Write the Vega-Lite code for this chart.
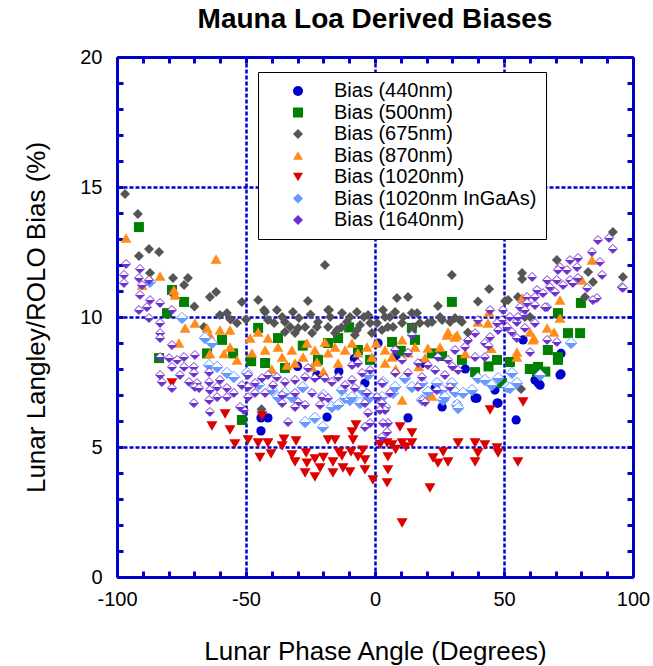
{
"$schema":"https://vega.github.io/schema/vega-lite/v6.json",
"width":516,"height":520,
"autosize":{"type":"none"},
"padding":{"left":117,"top":57,"right":20,"bottom":89},
"config":{"font":"Liberation Sans","view":{"stroke":null}},
"title":{"text":"Mauna Loa Derived Biases","fontSize":28,"fontWeight":"bold","font":"Liberation Sans","color":"black","anchor":"middle","offset":13},
"datasets":{
"d440":[{"x":-44.2,"y":6.12},{"x":-41.5,"y":6.12},{"x":-44.2,"y":5.62},{"x":-18.6,"y":6.15},{"x":-22.5,"y":7.77},{"x":-3.9,"y":7.46},{"x":-14,"y":7.9},{"x":-30,"y":8.1},{"x":1.2,"y":9.0},{"x":12.8,"y":6.12},{"x":23.3,"y":7.27},{"x":26,"y":6.54},{"x":31.8,"y":6.62},{"x":38.8,"y":6.88},{"x":39.5,"y":6.88},{"x":46.5,"y":7.19},{"x":47.7,"y":6.69},{"x":47.3,"y":6.69},{"x":54.7,"y":6.04},{"x":57.4,"y":9.12},{"x":62,"y":7.58},{"x":63.2,"y":7.46},{"x":64,"y":7.38},{"x":71.7,"y":7.77},{"x":72.1,"y":7.81},{"x":72.1,"y":8.6},{"x":8,"y":8.5},{"x":18,"y":8.2},{"x":-8,"y":8.4},{"x":35,"y":8.0}],
"d500":[{"x":-91.5,"y":13.46},{"x":-78.7,"y":11.04},{"x":-74,"y":10.58},{"x":-80.6,"y":10.15},{"x":-83.7,"y":8.42},{"x":-59.3,"y":9.12},{"x":-65.1,"y":8.6},{"x":-51.6,"y":6.04},{"x":-45.3,"y":9.58},{"x":-37.6,"y":9.19},{"x":-42.6,"y":8.23},{"x":-34.9,"y":8.04},{"x":-18.2,"y":9.0},{"x":-14.3,"y":9.19},{"x":-6.6,"y":8.73},{"x":-1.9,"y":8.35},{"x":-22.1,"y":8.35},{"x":-28,"y":8.9},{"x":-10,"y":9.6},{"x":6.6,"y":9.04},{"x":14.3,"y":9.58},{"x":15.5,"y":9.12},{"x":22,"y":8.6},{"x":29.8,"y":10.58},{"x":33.7,"y":8.35},{"x":38.8,"y":7.88},{"x":47.3,"y":8.35},{"x":49.2,"y":7.46},{"x":52.3,"y":8.27},{"x":62.8,"y":7.88},{"x":63.2,"y":8.08},{"x":67,"y":8.73},{"x":70.9,"y":8.35},{"x":70.9,"y":8.46},{"x":70.9,"y":10.15},{"x":74.8,"y":9.38},{"x":79.5,"y":9.38},{"x":79.8,"y":10.54},{"x":60,"y":8.0},{"x":66,"y":7.9},{"x":10,"y":8.7},{"x":26,"y":8.5},{"x":44,"y":8.1},{"x":-55,"y":8.6},{"x":-48,"y":8.3}],
"d675":[{"x":-96.9,"y":14.73},{"x":-91.9,"y":13.96},{"x":-91.5,"y":12.35},{"x":-87.6,"y":12.62},{"x":-83.7,"y":12.5},{"x":-87.2,"y":11.69},{"x":-78.3,"y":11.5},{"x":-72.5,"y":11.5},{"x":-74,"y":11.23},{"x":-78.7,"y":10.92},{"x":-64,"y":10.77},{"x":-61.6,"y":10.96},{"x":-60.1,"y":10.08},{"x":-57.4,"y":10.15},{"x":-53.5,"y":9.77},{"x":-66.3,"y":9.62},{"x":-51.6,"y":10.58},{"x":-45.3,"y":10.65},{"x":-43,"y":10.27},{"x":-42.6,"y":10.19},{"x":-41.5,"y":9.88},{"x":-38,"y":10.27},{"x":-39.1,"y":9.77},{"x":-34.9,"y":9.81},{"x":-34.9,"y":9.42},{"x":-32.9,"y":9.62},{"x":-31.8,"y":10.19},{"x":-31,"y":9.38},{"x":-29.5,"y":9.96},{"x":-29.8,"y":9.58},{"x":-27.1,"y":9.62},{"x":-26,"y":10.62},{"x":-24.4,"y":9.38},{"x":-22.5,"y":9.62},{"x":-22.1,"y":9.81},{"x":-19.4,"y":12.0},{"x":-18.2,"y":10.27},{"x":-18.2,"y":9.62},{"x":-17.8,"y":10.27},{"x":-17.4,"y":10.0},{"x":-15.5,"y":9.38},{"x":-14.7,"y":9.5},{"x":-12.8,"y":10.15},{"x":-10.9,"y":9.81},{"x":-9.7,"y":10.0},{"x":-7.8,"y":9.31},{"x":-7,"y":10.19},{"x":-7,"y":9.5},{"x":-5.8,"y":9.69},{"x":-4.3,"y":10.0},{"x":-2.7,"y":10.08},{"x":-1.9,"y":9.77},{"x":-1.2,"y":9.38},{"x":0.8,"y":9.77},{"x":2.7,"y":9.5},{"x":3.1,"y":10.27},{"x":3.9,"y":10.0},{"x":5,"y":9.62},{"x":5.8,"y":10.0},{"x":7,"y":9.62},{"x":7.8,"y":10.19},{"x":8.5,"y":10.73},{"x":10.5,"y":9.77},{"x":10.9,"y":10.0},{"x":12.8,"y":10.77},{"x":14.3,"y":10.15},{"x":14.7,"y":9.62},{"x":16.3,"y":10.15},{"x":17.4,"y":9.77},{"x":20.5,"y":9.77},{"x":22.1,"y":9.81},{"x":24.4,"y":10.42},{"x":25.2,"y":10.0},{"x":26,"y":9.88},{"x":29.1,"y":9.81},{"x":29.8,"y":11.62},{"x":31,"y":9.96},{"x":32.9,"y":9.88},{"x":33.7,"y":9.81},{"x":39.9,"y":10.6},{"x":44.2,"y":11.08},{"x":50.4,"y":10.62},{"x":51.6,"y":10.65},{"x":55.4,"y":10.77},{"x":57,"y":11.69},{"x":57,"y":11.46},{"x":58.1,"y":10.0},{"x":60.1,"y":10.0},{"x":70.5,"y":12.19},{"x":81.4,"y":10.77},{"x":82.6,"y":11.73},{"x":84.5,"y":11.35},{"x":92.2,"y":13.27},{"x":96.1,"y":11.54},{"x":-44,"y":6.45},{"x":56.6,"y":7.23},{"x":-70,"y":10.4},{"x":-50,"y":9.9},{"x":-36,"y":10.0},{"x":-25,"y":10.1},{"x":-13,"y":9.6},{"x":36,"y":9.4},{"x":-56,"y":9.9}],
"d870":[{"x":-96.5,"y":13.04},{"x":-61.6,"y":12.23},{"x":-83.3,"y":11.58},{"x":-90.3,"y":11.23},{"x":-77.9,"y":11.04},{"x":-77.5,"y":10.85},{"x":-73.6,"y":9.58},{"x":-69.8,"y":9.77},{"x":-76,"y":9.0},{"x":-65.1,"y":9.58},{"x":-60.1,"y":9.5},{"x":-56.2,"y":9.5},{"x":-64,"y":9.31},{"x":-64,"y":8.6},{"x":-58.5,"y":8.6},{"x":-56.2,"y":8.85},{"x":-53.5,"y":8.35},{"x":-48.4,"y":9.19},{"x":-45.3,"y":9.42},{"x":-41.5,"y":9.19},{"x":-47.7,"y":8.62},{"x":-42.6,"y":8.73},{"x":-37.6,"y":8.85},{"x":-36,"y":8.46},{"x":-34.1,"y":8.15},{"x":-32.2,"y":8.73},{"x":-31,"y":8.23},{"x":-26.4,"y":9.0},{"x":-27.9,"y":8.46},{"x":-24.4,"y":8.08},{"x":-23.3,"y":8.73},{"x":-22.5,"y":8.27},{"x":-19.4,"y":9.04},{"x":-18.2,"y":8.62},{"x":-15.5,"y":8.85},{"x":-14.3,"y":8.23},{"x":-11.6,"y":8.73},{"x":-8.9,"y":9.0},{"x":-6.6,"y":8.62},{"x":-3.1,"y":8.85},{"x":-1.2,"y":8.46},{"x":3.9,"y":8.73},{"x":3.9,"y":8.23},{"x":6.6,"y":8.46},{"x":10.5,"y":9.12},{"x":12.8,"y":8.62},{"x":15.5,"y":8.85},{"x":19.4,"y":8.42},{"x":20.5,"y":8.81},{"x":25.2,"y":8.85},{"x":27.9,"y":9.31},{"x":31.8,"y":9.31},{"x":28.3,"y":9.42},{"x":31,"y":9.23},{"x":39.9,"y":9.81},{"x":44.2,"y":10.19},{"x":43.8,"y":9.77},{"x":10.5,"y":6.81},{"x":21.3,"y":7.0},{"x":22.1,"y":6.96},{"x":55,"y":8.46},{"x":55,"y":8.65},{"x":57,"y":10.73},{"x":60.1,"y":9.42},{"x":61.6,"y":9.19},{"x":61.2,"y":9.12},{"x":66.7,"y":9.58},{"x":69.4,"y":9.42},{"x":71.7,"y":9.96},{"x":71.7,"y":10.65},{"x":80.2,"y":11.42},{"x":84.1,"y":12.19},{"x":-40,"y":8.0},{"x":-20,"y":7.9},{"x":0.5,"y":9.0},{"x":8,"y":8.0},{"x":17,"y":8.1},{"x":35,"y":8.6},{"x":45,"y":8.8}],
"d1020":[{"x":-49.2,"y":5.27},{"x":-45.3,"y":5.15},{"x":-41.5,"y":5.15},{"x":-44.6,"y":4.6},{"x":-40.3,"y":4.73},{"x":-35.3,"y":5.3},{"x":-36,"y":5.04},{"x":-30.6,"y":5.23},{"x":-32.2,"y":4.69},{"x":-31,"y":4.42},{"x":-26.7,"y":4.77},{"x":-26.4,"y":4.38},{"x":-27.1,"y":4.0},{"x":-23.3,"y":4.54},{"x":-23.3,"y":3.85},{"x":-21.3,"y":4.19},{"x":-18.2,"y":5.27},{"x":-15.5,"y":5.27},{"x":-16.3,"y":4.42},{"x":-16.3,"y":4.0},{"x":-12.8,"y":4.65},{"x":-12.4,"y":4.19},{"x":-9.7,"y":4.04},{"x":-8.9,"y":5.58},{"x":-8.5,"y":5.27},{"x":-9.3,"y":4.81},{"x":-6.6,"y":4.62},{"x":-4.7,"y":4.88},{"x":-3.9,"y":4.5},{"x":-7.4,"y":5.85},{"x":-3.9,"y":4.12},{"x":-0.8,"y":3.73},{"x":4.7,"y":5.15},{"x":6.6,"y":5.08},{"x":5.0,"y":4.62},{"x":5.0,"y":4.12},{"x":4.7,"y":3.62},{"x":10.5,"y":5.15},{"x":14.3,"y":5.15},{"x":9.7,"y":5.77},{"x":14.3,"y":5.54},{"x":10.5,"y":2.08},{"x":21.3,"y":3.42},{"x":22.5,"y":4.58},{"x":24.4,"y":4.38},{"x":26.4,"y":4.81},{"x":28.3,"y":4.42},{"x":32.2,"y":5.15},{"x":38.8,"y":5.15},{"x":39.9,"y":4.77},{"x":38.8,"y":4.42},{"x":42.6,"y":5.08},{"x":47.3,"y":4.96},{"x":47.7,"y":4.77},{"x":57.4,"y":6.73},{"x":44.6,"y":6.42},{"x":55.4,"y":4.42},{"x":-78.7,"y":7.46},{"x":-63.2,"y":5.81},{"x":-58.1,"y":6.27},{"x":-56.2,"y":5.65},{"x":-54.3,"y":5.12},{"x":-43.8,"y":6.19},{"x":2,"y":5.1},{"x":8,"y":4.9},{"x":12,"y":5.0},{"x":-20,"y":4.6},{"x":-14,"y":4.8}],
"dIn":[{"x":-87.2,"y":11.35},{"x":-74.8,"y":9.96},{"x":-65.9,"y":9.19},{"x":-63.2,"y":9.0},{"x":-64.3,"y":8.15},{"x":-61.2,"y":8.08},{"x":-57.4,"y":7.85},{"x":-54.7,"y":7.69},{"x":-49.6,"y":7.85},{"x":-37.6,"y":6.92},{"x":-34.9,"y":7.08},{"x":-32.2,"y":6.92},{"x":-27.1,"y":5.96},{"x":-23.3,"y":6.12},{"x":-20.2,"y":5.77},{"x":-16.7,"y":6.54},{"x":-14.3,"y":6.62},{"x":-12.8,"y":7.19},{"x":-11.6,"y":6.88},{"x":-9.7,"y":6.81},{"x":-8.9,"y":6.92},{"x":-5.8,"y":6.69},{"x":-5,"y":7.19},{"x":-2.7,"y":6.92},{"x":-1.9,"y":6.92},{"x":-2.7,"y":7.77},{"x":2.7,"y":6.92},{"x":3.1,"y":7.5},{"x":3.9,"y":6.54},{"x":7,"y":7.08},{"x":7.8,"y":7.31},{"x":11.6,"y":7.65},{"x":14.3,"y":7.31},{"x":18.2,"y":7.46},{"x":18.2,"y":6.81},{"x":20.5,"y":7.12},{"x":24,"y":7.46},{"x":26,"y":7.19},{"x":26.4,"y":6.81},{"x":27.1,"y":6.92},{"x":29.8,"y":7.46},{"x":31,"y":7.12},{"x":31.8,"y":6.62},{"x":32.2,"y":6.5},{"x":34.1,"y":7.08},{"x":37.6,"y":7.19},{"x":39.9,"y":7.65},{"x":42.6,"y":7.58},{"x":45.3,"y":7.38},{"x":47.7,"y":7.65},{"x":51.2,"y":7.31},{"x":52.3,"y":7.27},{"x":53.1,"y":7.85},{"x":55,"y":7.46},{"x":64,"y":7.77},{"x":76,"y":9.0},{"x":-45,"y":7.4},{"x":-40,"y":7.2},{"x":-28,"y":7.3},{"x":-20,"y":7.0}],
"d1640":[{"x":-96.5,"y":12.04},{"x":-97.3,"y":11.62},{"x":-97.3,"y":11.31},{"x":-91.1,"y":11.85},{"x":-91.5,"y":11.5},{"x":-90.3,"y":11.23},{"x":-87.6,"y":11.42},{"x":-91.1,"y":10.85},{"x":-87.2,"y":10.65},{"x":-83.3,"y":10.54},{"x":-88.4,"y":10.38},{"x":-91.5,"y":10.27},{"x":-87.6,"y":9.96},{"x":-83.3,"y":9.77},{"x":-83.3,"y":9.38},{"x":-83.3,"y":9.19},{"x":-78.7,"y":10.27},{"x":-78.7,"y":8.92},{"x":-83.3,"y":8.46},{"x":-79.8,"y":8.42},{"x":-76.7,"y":8.35},{"x":-74,"y":8.46},{"x":-78.7,"y":8.08},{"x":-74,"y":8.08},{"x":-69.8,"y":8.54},{"x":-70.2,"y":8.08},{"x":-75.6,"y":7.77},{"x":-70.2,"y":7.85},{"x":-72.1,"y":7.5},{"x":-69,"y":7.46},{"x":-82.6,"y":7.5},{"x":-78.7,"y":7.27},{"x":-69.8,"y":7.31},{"x":-70.2,"y":6.69},{"x":-64,"y":6.35},{"x":-64.3,"y":7.88},{"x":-64.3,"y":7.5},{"x":-61.2,"y":7.31},{"x":-64,"y":7.19},{"x":-60.1,"y":7.58},{"x":-57.4,"y":7.27},{"x":-57.4,"y":6.92},{"x":-54.7,"y":7.08},{"x":-51.6,"y":7.38},{"x":-61.2,"y":6.92},{"x":-83.3,"y":7.77},{"x":-68.2,"y":7.27},{"x":-64.3,"y":6.81},{"x":-50.8,"y":6.42},{"x":-52.3,"y":6.54},{"x":-33.7,"y":5.96},{"x":-49.2,"y":7.77},{"x":-46.5,"y":7.46},{"x":-43.8,"y":7.65},{"x":-41.5,"y":7.77},{"x":-38,"y":7.69},{"x":-39.5,"y":7.38},{"x":-34.9,"y":7.5},{"x":-31,"y":7.58},{"x":-27.1,"y":7.69},{"x":-23.3,"y":7.65},{"x":-19.4,"y":7.65},{"x":-16.7,"y":7.5},{"x":-14.3,"y":7.69},{"x":-11.6,"y":7.38},{"x":-8.9,"y":7.58},{"x":-5,"y":7.85},{"x":-1.9,"y":7.96},{"x":-26,"y":8.04},{"x":-8.9,"y":8.15},{"x":-6.6,"y":8.23},{"x":-46.5,"y":7.08},{"x":-42.6,"y":7.08},{"x":-36,"y":7.0},{"x":-31,"y":7.08},{"x":-24.4,"y":7.08},{"x":-20.5,"y":6.92},{"x":-18.2,"y":6.88},{"x":-29.8,"y":6.73},{"x":-27.1,"y":6.62},{"x":-36,"y":6.69},{"x":-21.3,"y":6.62},{"x":-31,"y":6.54},{"x":-3.9,"y":6.69},{"x":-2.7,"y":6.31},{"x":-1.9,"y":5.92},{"x":-3.9,"y":5.77},{"x":-3.1,"y":7.08},{"x":-7.8,"y":7.27},{"x":-49.2,"y":7.31},{"x":-49.2,"y":6.92},{"x":5,"y":5.92},{"x":4.7,"y":5.58},{"x":3.9,"y":6.42},{"x":2.7,"y":6.69},{"x":0.8,"y":6.92},{"x":1.9,"y":6.42},{"x":3.1,"y":5.92},{"x":2.7,"y":5.38},{"x":5.8,"y":7.08},{"x":18.6,"y":6.81},{"x":24,"y":7.19},{"x":29.1,"y":7.31},{"x":14.3,"y":9.31},{"x":7.8,"y":8.73},{"x":10.5,"y":8.35},{"x":12.8,"y":8.62},{"x":16.7,"y":8.23},{"x":20.5,"y":8.15},{"x":24.4,"y":8.46},{"x":28.3,"y":8.35},{"x":31,"y":8.73},{"x":34.9,"y":8.85},{"x":38.8,"y":9.38},{"x":39.9,"y":9.88},{"x":42.6,"y":9.0},{"x":44.6,"y":9.23},{"x":47.7,"y":9.5},{"x":49.2,"y":9.88},{"x":42.6,"y":8.46},{"x":38.8,"y":8.46},{"x":7.8,"y":7.85},{"x":12.8,"y":7.85},{"x":18.2,"y":7.69},{"x":23.3,"y":7.96},{"x":27.1,"y":7.77},{"x":32.2,"y":7.96},{"x":16.7,"y":7.31},{"x":19.4,"y":6.73},{"x":2.7,"y":7.46},{"x":36,"y":9.1},{"x":30,"y":8.1},{"x":44,"y":8.9},{"x":86.4,"y":12.96},{"x":90.7,"y":13.04},{"x":92.2,"y":12.62},{"x":84.1,"y":12.5},{"x":87.2,"y":12.12},{"x":75.6,"y":12.19},{"x":78.7,"y":12.27},{"x":71.7,"y":11.92},{"x":74.4,"y":11.81},{"x":78.3,"y":11.92},{"x":60.9,"y":11.54},{"x":66.7,"y":11.42},{"x":70.5,"y":11.42},{"x":75.6,"y":11.42},{"x":67.8,"y":11.15},{"x":72.9,"y":11.23},{"x":76.7,"y":11.31},{"x":62.8,"y":11.04},{"x":65.1,"y":10.92},{"x":58.9,"y":10.77},{"x":62,"y":10.77},{"x":62,"y":10.46},{"x":66.7,"y":10.38},{"x":58.9,"y":10.54},{"x":56.2,"y":10.38},{"x":49.6,"y":10.27},{"x":52.3,"y":10.0},{"x":57.4,"y":10.08},{"x":44.6,"y":10.27},{"x":55,"y":9.81},{"x":51.2,"y":9.62},{"x":47.3,"y":9.77},{"x":86,"y":10.73},{"x":95.7,"y":11.15},{"x":82.2,"y":11.12},{"x":84.5,"y":10.65},{"x":88,"y":11.62},{"x":69.8,"y":10.96},{"x":65.9,"y":10.38},{"x":58.1,"y":10.27},{"x":55.4,"y":10.0},{"x":62,"y":9.77},{"x":58.1,"y":9.58},{"x":53.1,"y":9.42},{"x":55,"y":9.19},{"x":60.1,"y":8.65},{"x":66.7,"y":9.12},{"x":70.5,"y":9.04},{"x":78.7,"y":11.5},{"x":96.1,"y":11.12},{"x":70.9,"y":11.81}]
},
"layer":[
{"data":{"name":"d440"},"mark":{"type":"point","opacity":0},
 "encoding":{
  "x":{"field":"x","type":"quantitative","scale":{"domain":[-100,100],"nice":false,"zero":false},
   "axis":{"orient":"bottom","values":[-50,0,50],"labels":false,"ticks":false,"domain":false,"title":null,
    "grid":true,"gridColor":"#0000cc","gridWidth":2.5,"gridDash":[4,2],"gridOpacity":1}},
  "y":{"field":"y","type":"quantitative","scale":{"domain":[0,20],"nice":false,"zero":false},
   "axis":{"orient":"left","values":[5,10,15],"labels":false,"ticks":false,"domain":false,"title":null,
    "grid":true,"gridColor":"#0000cc","gridWidth":2.5,"gridDash":[4,2],"gridOpacity":1}}
 }},
{"data":{"name":"d440"},"mark":{"type":"point","shape":"circle","filled":true,"opacity":1,"size":85},
 "encoding":{
  "x":{"field":"x","type":"quantitative",
   "axis":{"orient":"bottom","values":[-100,-90,-80,-70,-60,-50,-40,-30,-20,-10,0,10,20,30,40,50,60,70,80,90,100],
    "labelExpr":"datum.value % 50 === 0 ? '' + datum.value : ''","labelOverlap":false,"labelFlush":false,
    "tickSize":-6,"tickWidth":3,"tickColor":"#0000cc","domainColor":"#0000cc","domainWidth":3,"grid":false,
    "labelFontSize":20,"labelFont":"Liberation Sans","labelColor":"black","labelPadding":18,
    "title":"Lunar Phase Angle (Degrees)","titleFontSize":26,"titleFont":"Liberation Sans","titleFontWeight":"normal","titleColor":"black","titlePadding":29}},
  "y":{"field":"y","type":"quantitative",
   "axis":{"orient":"left","values":[0,1,2,3,4,5,6,7,8,9,10,11,12,13,14,15,16,17,18,19,20],
    "labelExpr":"datum.value % 5 === 0 ? '' + datum.value : ''","labelOverlap":false,"labelFlush":false,
    "tickSize":-6,"tickWidth":3,"tickColor":"#0000cc","domainColor":"#0000cc","domainWidth":3,"grid":false,
    "labelFontSize":20,"labelFont":"Liberation Sans","labelColor":"black","labelPadding":21,
    "title":"Lunar Langley/ROLO Bias (%)","titleFontSize":26,"titleFont":"Liberation Sans","titleFontWeight":"normal","titleColor":"black","titlePadding":30}},
  "color":{"datum":"Bias (440nm)","type":"nominal",
   "scale":{"domain":["Bias (440nm)","Bias (500nm)","Bias (675nm)","Bias (870nm)","Bias (1020nm)","Bias (1020nm InGaAs)","Bias (1640nm)"],
    "range":["#0000cc","#008000","#555555","#ff8c1a","#dd0000","#6699ff","#6b2fd0"]},
   "legend":{"title":null,"orient":"none","legendX":141,"legendY":15,"padding":9,"strokeColor":"black","fillColor":"white",
    "labelFontSize":20,"labelFont":"Liberation Sans","symbolOffset":21,"labelOffset":26,"rowPadding":1.5,"symbolSize":100,"labelLimit":400}},
  "shape":{"datum":"Bias (440nm)","type":"nominal",
   "scale":{"domain":["Bias (440nm)","Bias (500nm)","Bias (675nm)","Bias (870nm)","Bias (1020nm)","Bias (1020nm InGaAs)","Bias (1640nm)"],
    "range":["circle","square","diamond","triangle-up","triangle-down","diamond","diamond"]}}
 }},
{"data":{"name":"d500"},"mark":{"type":"point","filled":true,"opacity":1,"size":100},
 "encoding":{"x":{"field":"x","type":"quantitative","axis":null},"y":{"field":"y","type":"quantitative","axis":null},
  "color":{"datum":"Bias (500nm)","type":"nominal"},"shape":{"datum":"Bias (500nm)","type":"nominal"}}},
{"data":{"name":"d675"},"mark":{"type":"point","filled":true,"opacity":1,"size":100},
 "encoding":{"x":{"field":"x","type":"quantitative","axis":null},"y":{"field":"y","type":"quantitative","axis":null},
  "color":{"datum":"Bias (675nm)","type":"nominal"},"shape":{"datum":"Bias (675nm)","type":"nominal"}}},
{"data":{"name":"d870"},"mark":{"type":"point","filled":true,"opacity":1,"size":120},
 "encoding":{"x":{"field":"x","type":"quantitative","axis":null},"y":{"field":"y","type":"quantitative","axis":null},
  "color":{"datum":"Bias (870nm)","type":"nominal"},"shape":{"datum":"Bias (870nm)","type":"nominal"}}},
{"data":{"name":"d1020"},"mark":{"type":"point","filled":true,"opacity":1,"size":120},
 "encoding":{"x":{"field":"x","type":"quantitative","axis":null},"y":{"field":"y","type":"quantitative","axis":null},
  "color":{"datum":"Bias (1020nm)","type":"nominal"},"shape":{"datum":"Bias (1020nm)","type":"nominal"}}},
{"data":{"name":"dIn"},"mark":{"type":"point","shape":"diamond","opacity":1,"size":130,"strokeWidth":1,"stroke":"#6699ff",
  "fill":{"gradient":"linear","x1":0,"y1":0,"x2":0,"y2":1,"stops":[{"offset":0,"color":"white"},{"offset":0.5,"color":"white"},{"offset":0.5,"color":"#6699ff"},{"offset":1,"color":"#6699ff"}]}},
 "encoding":{"x":{"field":"x","type":"quantitative","axis":null},"y":{"field":"y","type":"quantitative","axis":null}}},
{"data":{"name":"d1640"},"mark":{"type":"point","shape":"diamond","opacity":1,"size":80,"strokeWidth":1,"stroke":"#6b2fd0",
  "fill":{"gradient":"linear","x1":0,"y1":0,"x2":0,"y2":1,"stops":[{"offset":0,"color":"white"},{"offset":0.5,"color":"white"},{"offset":0.5,"color":"#6b2fd0"},{"offset":1,"color":"#6b2fd0"}]}},
 "encoding":{"x":{"field":"x","type":"quantitative","axis":null},"y":{"field":"y","type":"quantitative","axis":null}}},
{"data":{"name":"d440"},"mark":{"type":"point","opacity":0},
 "encoding":{
  "x":{"field":"x","type":"quantitative","axis":{"orient":"top","values":[-100,-90,-80,-70,-60,-50,-40,-30,-20,-10,0,10,20,30,40,50,60,70,80,90,100],"labels":false,"grid":false,"title":null,
    "tickSize":-6,"tickWidth":3,"tickColor":"#0000cc","domainColor":"#0000cc","domainWidth":3}},
  "y":{"field":"y","type":"quantitative","axis":{"orient":"right","values":[0,1,2,3,4,5,6,7,8,9,10,11,12,13,14,15,16,17,18,19,20],"labels":false,"grid":false,"title":null,
    "tickSize":-6,"tickWidth":3,"tickColor":"#0000cc","domainColor":"#0000cc","domainWidth":3}}
 }}
],
"resolve":{"axis":{"x":"independent","y":"independent"}}
}
